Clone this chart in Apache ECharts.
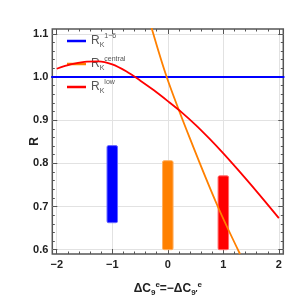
<!DOCTYPE html>
<html><head><meta charset="utf-8">
<script src="https://cdn.jsdelivr.net/npm/echarts@6/dist/echarts.min.js"></script>
<style>html,body{margin:0;padding:0;background:#fff}#c{width:300px;height:302px}</style>
</head><body><div id="c"></div>
<script>
// ---- data ----
var redX = [-2, -1.75, -1.5, -1.25, -1, -0.75, -0.5, -0.25, 0, 0.25, 0.5, 0.75, 1, 1.25, 1.5, 1.75, 2];
var redY = [1.019, 1.029, 1.035, 1.036, 1.029, 1.013, 0.992, 0.969, 0.944, 0.918, 0.889, 0.857, 0.823, 0.787, 0.750, 0.712, 0.673];
var orangeX = [-0.30, -0.02, 0.40, 0.90, 1.30];
var orangeY = [1.117, 1.0, 0.857, 0.70, 0.59];
var blueX = [-2.1, 2.1];
var blueY = [1.0, 1.0];
var barX = [-1, 0, 1];
var barLow = [0.6625, 0.6, 0.6];
var barHigh = [0.841, 0.806, 0.771];
var xTicks = [-2, -1, 0, 1, 2];
var yTicks = [0.6, 0.7, 0.8, 0.9, 1.0, 1.1];
var legendNames = ['r16', 'central', 'low'];
var legendSup = {r16: '1\u22126', central: 'central', low: 'low'};

// ---- build ----
function pairs(xs, ys){ return xs.map(function(x,i){ return [x, ys[i]]; }); }
function minors(majors, step, lo, hi){
  var out=[]; for (var v=lo; v<=hi+1e-9; v+=step){ var r=Math.round(v*1000)/1000;
    if (majors.every(function(m){return Math.abs(m-r)>1e-6;})) out.push(r);} return out; }
var xMin=-2.08, xMax=2.08, yMin=0.59, yMax=1.111;
var xMinor = minors(xTicks, 0.2, -2.0, 2.0);
var yMinor = minors(yTicks, 0.02, 0.6, 1.1);
var frame = '#555';
var FF = 'Liberation Sans';

function xAx(pos, major, showLbl, name){
  var a = {type:'value', min:xMin, max:xMax, position:pos,
    axisLine:{show:false, onZero:false},
    axisTick:{show:true, inside:true, length: major?5:2.5, customValues: major?xTicks:xMinor, lineStyle:{color:frame, width:1}},
    axisLabel:{show:showLbl, customValues:xTicks, margin:5,
      formatter:function(v){ return (v<0?'\u2212':'')+Math.abs(v); }, fontFamily:FF, fontWeight:'bold', fontSize:11, color:'#222'},
    splitLine:{show: major && pos==='bottom', lineStyle:{color:'#e2e2e2', width:1}}};
  if (name){
    a.name = '{b|\u0394C}{s|9}{p|e}{b|=\u2212\u0394C}{s|9\u2032}{p|e}';
    a.nameLocation='middle'; a.nameGap=27; a.nameMoveOverlap=false;
    a.nameTextStyle={rich:{
      b:{fontFamily:FF, fontWeight:'bold', fontSize:12, color:'#222', lineHeight:16},
      s:{fontFamily:FF, fontWeight:'bold', fontSize:8, color:'#222', verticalAlign:'bottom', lineHeight:8},
      p:{fontFamily:FF, fontWeight:'bold', fontSize:8, color:'#222', verticalAlign:'top', lineHeight:8}
    }};
  }
  return a;
}
function yAx(pos, major, showLbl, name){
  var a = {type:'value', min:yMin, max:yMax, position:pos,
    axisLine:{show:false, onZero:false},
    axisTick:{show:true, inside:true, length: major?5:2.5, customValues: major?yTicks:yMinor, lineStyle:{color:frame, width:1}},
    axisLabel:{show:showLbl, customValues:yTicks, margin:4,
      formatter:function(v){ return v.toFixed(1); }, fontFamily:FF, fontWeight:'bold', fontSize:11, color:'#222'},
    splitLine:{show: major && pos==='left', lineStyle:{color:'#e2e2e2', width:1}}};
  if (name){
    a.name='R'; a.nameLocation='middle'; a.nameGap=12; a.nameRotate=90; a.nameMoveOverlap=false;
    a.nameTextStyle={fontFamily:FF, fontWeight:'bold', fontSize:12, color:'#222'};
  }
  return a;
}

function barSeries(i, color, border){
  return {type:'custom', xAxisIndex:0, yAxisIndex:0, z:3,
    data:[[barX[i], barLow[i], barHigh[i]]],
    renderItem:function(params, api){
      var top = api.coord([api.value(0), api.value(2)]);
      var bot = api.coord([api.value(0), api.value(1)]);
      var w = 10.5;
      return {type:'rect', shape:{x:top[0]-w/2, y:top[1], width:w, height:bot[1]-top[1], r:1.5},
        style:{fill:color, stroke:border, lineWidth:1}};
    }};
}

var richLegend = {
  r:{fontFamily:FF, fontSize:12, color:'#555', lineHeight:16},
  k:{fontFamily:FF, fontSize:7, color:'#555', verticalAlign:'bottom', lineHeight:7},
  u:{fontFamily:FF, fontSize:7, color:'#555', verticalAlign:'top', lineHeight:7}
};

var option = {
  animation:false,
  grid:{left:52.3, right:16.7, top:29, bottom:42, show:true, borderColor:frame, borderWidth:1.5, backgroundColor:'transparent'},
  xAxis:[ xAx('bottom', true, true, true), xAx('bottom', false, false), xAx('top', true, false), xAx('top', false, false) ],
  yAxis:[ yAx('left', true, true, true), yAx('left', false, false), yAx('right', true, false), yAx('right', false, false) ],
  legend:{show:true, orient:'vertical', left:67, top:33, padding:0, itemGap:7, itemWidth:19, itemHeight:2.5, icon:'rect',
    data:legendNames,
    formatter:function(n){ return '{r|R}{k|K}{u|'+legendSup[n]+'}'; },
    textStyle:{rich:richLegend}},
  series:[
    barSeries(0, '#0000ff', '#6a6aff'),
    barSeries(1, '#ff8000', '#ffb060'),
    barSeries(2, '#ff0000', '#ff6a6a'),
    {name:'r16', type:'line', data:pairs(blueX, blueY), showSymbol:false, symbol:'none', color:'#0000ff', lineStyle:{color:'#0000ff', width:2}, z:4},
    {name:'central', type:'line', data:pairs(orangeX, orangeY), smooth:0.3, showSymbol:false, symbol:'none', color:'#ff8000', lineStyle:{color:'#ff8000', width:1.8}, z:4},
    {name:'low', type:'line', data:pairs(redX, redY), smooth:0.3, showSymbol:false, symbol:'none', color:'#ff0000', lineStyle:{color:'#ff0000', width:1.8}, z:4}
  ]
};
var chart = echarts.init(document.getElementById('c'), null, {renderer:'canvas'});
chart.setOption(option);
</script></body></html>
